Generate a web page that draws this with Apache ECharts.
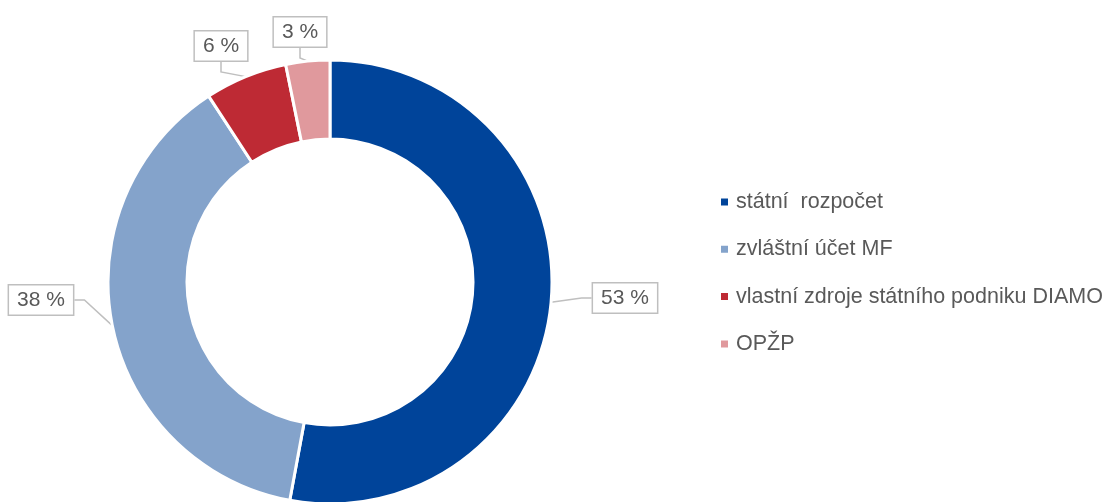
<!DOCTYPE html>
<html><head><meta charset="utf-8">
<script src="https://cdn.jsdelivr.net/npm/echarts@6/dist/echarts.min.js"></script>
<style>html,body{margin:0;padding:0;background:#fff}#c{width:1115px;height:502px}</style>
</head><body><div id="c"></div>
<script>
const categories = ['státní  rozpočet', 'zvláštní účet MF', 'vlastní zdroje státního podniku DIAMO', 'OPŽP'];
const values = [52.9, 37.9, 6.0, 3.2];
const colors = ['#00449A', '#84A3CB', '#BE2A34', '#E0999D'];

const labelPos = [[625, 298], [41, 300], [221, 46], [300, 32]];

const chart = echarts.init(document.getElementById('c'), null, {renderer: 'canvas'});
chart.setOption({
  animation: false,
  color: colors,
  legend: {
    orient: 'vertical', left: 719, top: 191, padding: 0,
    icon: 'rect', itemWidth: 9, itemHeight: 9, itemGap: 25.3,
    data: categories,
    textStyle: {fontFamily: 'Liberation Sans', fontSize: 21.5, color: '#595959', lineHeight: 22, padding: [0, 0, 0, 2]}
  },
  series: [{
    type: 'pie',
    center: [330, 282],
    radius: [143, 222],
    startAngle: 90,
    clockwise: true,
    avoidLabelOverlap: false,
    itemStyle: {borderColor: '#fff', borderWidth: 3},
    label: {
      show: true,
      formatter: p => Math.round(p.percent) + ' %',
      fontFamily: 'Liberation Sans', fontSize: 21, color: '#595959',
      backgroundColor: '#fff', borderColor: '#BFBFBF', borderWidth: 1.5,
      padding: [5, 8, 3, 8]
    },
    labelLine: {show: true, length: 10, length2: 10, lineStyle: {color: '#BFBFBF', width: 1.5}},
    labelLayout: function (params) {
      const p = labelPos[params.dataIndex];
      return {x: p[0], y: p[1], align: 'center', verticalAlign: 'middle'};
    },
    emphasis: {disabled: true},
    data: categories.map((n, i) => ({name: n, value: values[i]}))
  }]
});
</script></body></html>
